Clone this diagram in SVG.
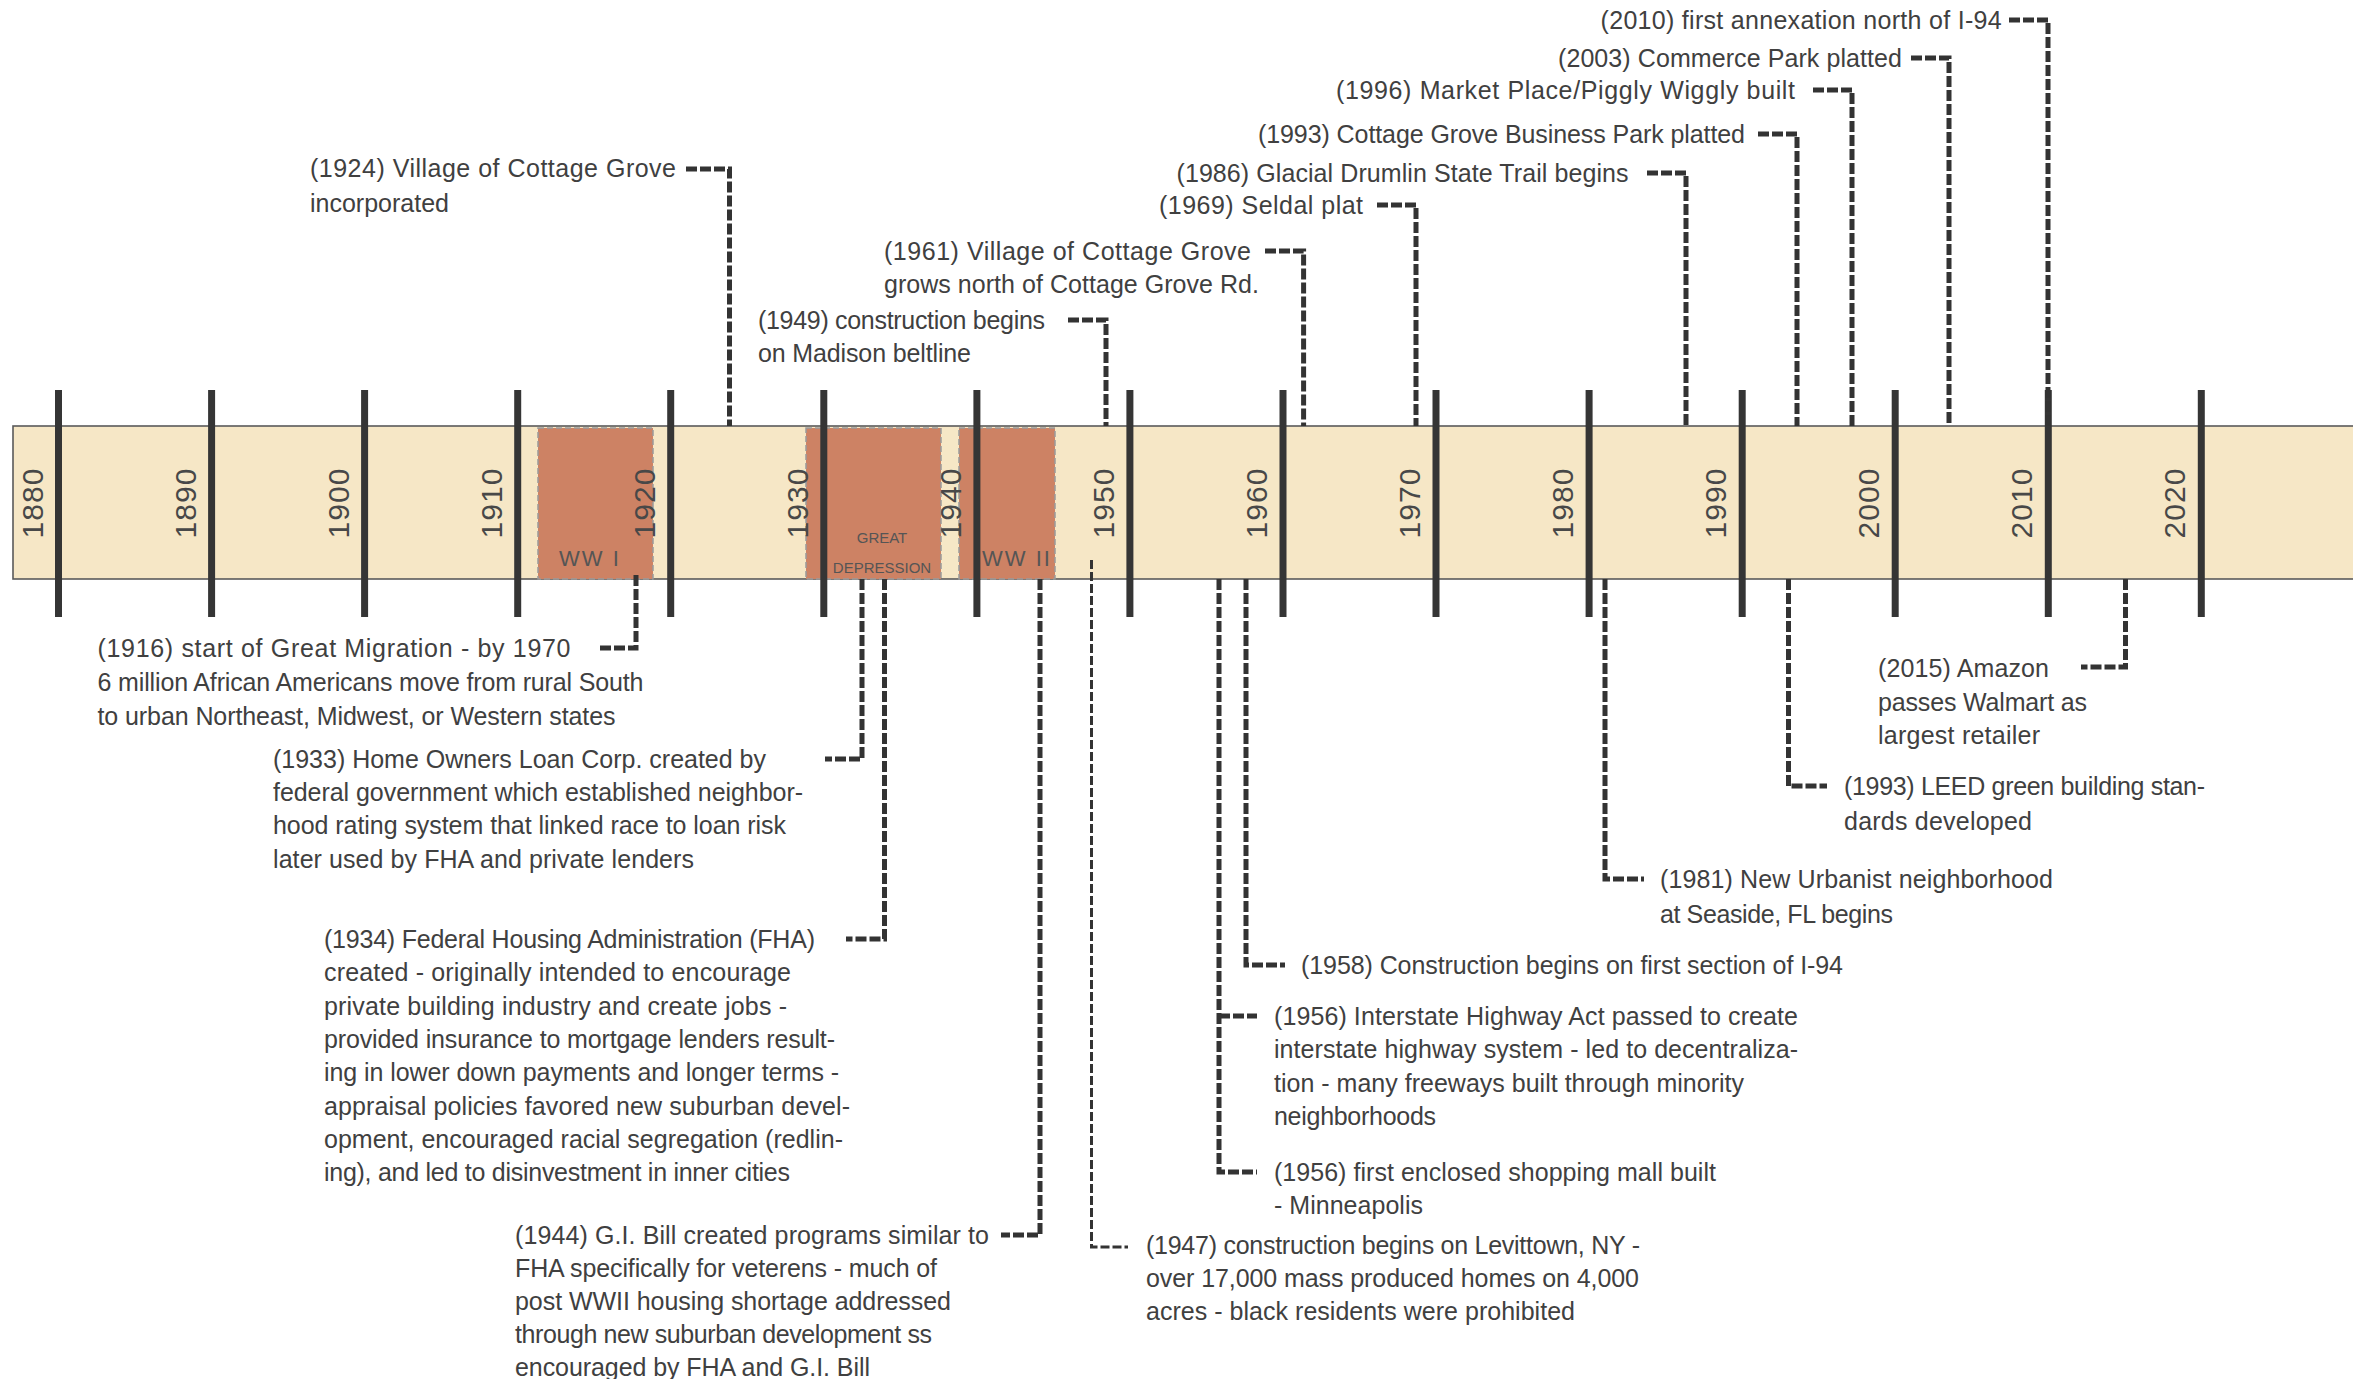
<svg xmlns="http://www.w3.org/2000/svg" width="2353" height="1379" viewBox="0 0 2353 1379">
<style>
.bg{fill:#ffffff}
.band{fill:#f6e7c6;stroke:#5a5a5a;stroke-width:1.6}
.era{fill:#cd8264;stroke:#9a9a9a;stroke-width:1.5;stroke-dasharray:6 3}
.tick{stroke:#353535;stroke-width:7;fill:none}
.yr{font-family:"Liberation Sans",Arial,sans-serif;font-size:30px;fill:#484848;text-anchor:middle;letter-spacing:1px}
.era-t{font-family:"Liberation Sans",Arial,sans-serif;fill:#555;text-anchor:middle}
.lbl{font-family:"Liberation Sans",Arial,sans-serif;font-size:25px;fill:#404040}
.con{fill:none;stroke:#333;stroke-width:5;stroke-dasharray:11 3}
.con-thin{fill:none;stroke:#333;stroke-width:3;stroke-dasharray:9 3}
</style>
<rect class="bg" x="0" y="0" width="2353" height="1379"/>

<g id="timeline">
  <rect class="band" x="13" y="426" width="2345" height="153"/>
  <g id="eras">
    <rect class="era" x="538" y="428" width="115" height="151"/>
    <rect class="era" x="806" y="428" width="135" height="151"/>
    <rect class="era" x="959" y="428" width="96" height="151"/>
  </g>
  <g id="ticks">
    <line class="tick" x1="58.5" y1="390" x2="58.5" y2="617"/>
    <line class="tick" x1="211.6" y1="390" x2="211.6" y2="617"/>
    <line class="tick" x1="364.6" y1="390" x2="364.6" y2="617"/>
    <line class="tick" x1="517.7" y1="390" x2="517.7" y2="617"/>
    <line class="tick" x1="670.7" y1="390" x2="670.7" y2="617"/>
    <line class="tick" x1="823.8" y1="390" x2="823.8" y2="617"/>
    <line class="tick" x1="976.9" y1="390" x2="976.9" y2="617"/>
    <line class="tick" x1="1129.9" y1="390" x2="1129.9" y2="617"/>
    <line class="tick" x1="1283" y1="390" x2="1283" y2="617"/>
    <line class="tick" x1="1436" y1="390" x2="1436" y2="617"/>
    <line class="tick" x1="1589.1" y1="390" x2="1589.1" y2="617"/>
    <line class="tick" x1="1742.2" y1="390" x2="1742.2" y2="617"/>
    <line class="tick" x1="1895.2" y1="390" x2="1895.2" y2="617"/>
    <line class="tick" x1="2048.3" y1="390" x2="2048.3" y2="617"/>
    <line class="tick" x1="2201.3" y1="390" x2="2201.3" y2="617"/>
  </g>
  <g id="years">
    <text class="yr" transform="translate(42.5,503) rotate(-90)">1880</text>
    <text class="yr" transform="translate(195.6,503) rotate(-90)">1890</text>
    <text class="yr" transform="translate(348.6,503) rotate(-90)">1900</text>
    <text class="yr" transform="translate(501.7,503) rotate(-90)">1910</text>
    <text class="yr" transform="translate(654.7,503) rotate(-90)">1920</text>
    <text class="yr" transform="translate(807.8,503) rotate(-90)">1930</text>
    <text class="yr" transform="translate(960.9,503) rotate(-90)">1940</text>
    <text class="yr" transform="translate(1113.9,503) rotate(-90)">1950</text>
    <text class="yr" transform="translate(1267,503) rotate(-90)">1960</text>
    <text class="yr" transform="translate(1420,503) rotate(-90)">1970</text>
    <text class="yr" transform="translate(1573.1,503) rotate(-90)">1980</text>
    <text class="yr" transform="translate(1726.2,503) rotate(-90)">1990</text>
    <text class="yr" transform="translate(1879.2,503) rotate(-90)">2000</text>
    <text class="yr" transform="translate(2032.3,503) rotate(-90)">2010</text>
    <text class="yr" transform="translate(2185.3,503) rotate(-90)">2020</text>
  </g>
  <g id="era-labels">
    <text class="era-t" x="590" y="566" font-size="22" letter-spacing="2">WW I</text>
    <text class="era-t" x="882" y="543" font-size="15">GREAT</text>
    <text class="era-t" x="882" y="573" font-size="15">DEPRESSION</text>
    <text class="era-t" x="1017" y="566" font-size="22" letter-spacing="2">WW II</text>
  </g>
</g>

<g id="connectors">
  <path class="con" d="M686 169 H729.5 V426"/>
  <path class="con" d="M1265 251 H1303.6 V426"/>
  <path class="con" d="M1068 320 H1106 V426"/>
  <path class="con" d="M1377 205 H1416 V426"/>
  <path class="con" d="M1647 173 H1686 V426"/>
  <path class="con" d="M1758 134 H1797 V426"/>
  <path class="con" d="M1813 90 H1852 V426"/>
  <path class="con" d="M1911 58 H1949 V426"/>
  <path class="con" d="M2009 20 H2048 V426"/>
  <path class="con" d="M636 575 V648 H598"/>
  <path class="con" d="M862 579 V759 H825"/>
  <path class="con" d="M884.5 579 V939 H846"/>
  <path class="con" d="M1040 579 V1235 H1001"/>
  <path class="con-thin" d="M1091.5 560 V1247 H1128"/>
  <path class="con" d="M1219 579 V1172 H1257"/>
  <path class="con" d="M1219 1016 H1257"/>
  <path class="con" d="M1246 579 V965 H1285"/>
  <path class="con" d="M1605 579 V879 H1644"/>
  <path class="con" d="M1788.5 579 V786 H1827"/>
  <path class="con" d="M2125.5 579 V667 H2081"/>
</g>

<g id="e1924">
  <text class="lbl" x="310" y="177" textLength="366">(1924) Village of Cottage Grove</text>
  <text class="lbl" x="310" y="211.6" textLength="139">incorporated</text>
</g>
<g id="e1961">
  <text class="lbl" x="884" y="260" textLength="367">(1961) Village of Cottage Grove</text>
  <text class="lbl" x="884" y="293" textLength="375">grows north of Cottage Grove Rd.</text>
</g>
<g id="e1949">
  <text class="lbl" x="758" y="329" textLength="287">(1949) construction begins</text>
  <text class="lbl" x="758" y="362" textLength="213">on Madison beltline</text>
</g>
<g id="e1969"><text class="lbl" x="1159" y="214" textLength="204">(1969) Seldal plat</text></g>
<g id="e1986"><text class="lbl" x="1176.5" y="182" textLength="452">(1986) Glacial Drumlin State Trail begins</text></g>
<g id="e1993a"><text class="lbl" x="1258" y="143" textLength="487">(1993) Cottage Grove Business Park platted</text></g>
<g id="e1996"><text class="lbl" x="1336" y="99" textLength="459">(1996) Market Place/Piggly Wiggly built</text></g>
<g id="e2003"><text class="lbl" x="1558" y="67" textLength="344">(2003) Commerce Park platted</text></g>
<g id="e2010"><text class="lbl" x="1600.6" y="29" textLength="401">(2010) first annexation north of I-94</text></g>

<g id="e1916">
  <text class="lbl" x="97.5" y="657" textLength="473">(1916) start of Great Migration - by 1970</text>
  <text class="lbl" x="97.5" y="691" textLength="546">6 million African Americans move from rural South</text>
  <text class="lbl" x="97.5" y="724.5" textLength="518">to urban Northeast, Midwest, or Western states</text>
</g>
<g id="e1933">
  <text class="lbl" x="273" y="768" textLength="493">(1933) Home Owners Loan Corp. created by</text>
  <text class="lbl" x="273" y="801.2" textLength="530">federal government which established neighbor-</text>
  <text class="lbl" x="273" y="834.4" textLength="513">hood rating system that linked race to loan risk</text>
  <text class="lbl" x="273" y="867.6" textLength="421">later used by FHA and private lenders</text>
</g>
<g id="e1934">
  <text class="lbl" x="324" y="948" textLength="491">(1934) Federal Housing Administration (FHA)</text>
  <text class="lbl" x="324" y="981.3" textLength="467">created - originally intended to encourage</text>
  <text class="lbl" x="324" y="1014.6" textLength="463">private building industry and create jobs -</text>
  <text class="lbl" x="324" y="1047.9" textLength="511">provided insurance to mortgage lenders result-</text>
  <text class="lbl" x="324" y="1081.2" textLength="515">ing in lower down payments and longer terms -</text>
  <text class="lbl" x="324" y="1114.5" textLength="526">appraisal policies favored new suburban devel-</text>
  <text class="lbl" x="324" y="1147.8" textLength="519">opment, encouraged racial segregation (redlin-</text>
  <text class="lbl" x="324" y="1181.1" textLength="466">ing), and led to disinvestment in inner cities</text>
</g>
<g id="e1944">
  <text class="lbl" x="515" y="1244" textLength="474">(1944) G.I. Bill created programs similar to</text>
  <text class="lbl" x="515" y="1277" textLength="422">FHA specifically for veterens - much of</text>
  <text class="lbl" x="515" y="1310" textLength="436">post WWII housing shortage addressed</text>
  <text class="lbl" x="515" y="1343" textLength="417">through new suburban development ss</text>
  <text class="lbl" x="515" y="1376" textLength="355">encouraged by FHA and G.I. Bill</text>
</g>
<g id="e1947">
  <text class="lbl" x="1146" y="1254" textLength="494">(1947) construction begins on Levittown, NY -</text>
  <text class="lbl" x="1146" y="1287" textLength="493">over 17,000 mass produced homes on 4,000</text>
  <text class="lbl" x="1146" y="1320" textLength="429">acres - black residents were prohibited</text>
</g>
<g id="e1956mall">
  <text class="lbl" x="1274" y="1181" textLength="442">(1956) first enclosed shopping mall built</text>
  <text class="lbl" x="1274" y="1214" textLength="149">- Minneapolis</text>
</g>
<g id="e1956act">
  <text class="lbl" x="1274" y="1025" textLength="524">(1956) Interstate Highway Act passed to create</text>
  <text class="lbl" x="1274" y="1058.3" textLength="524">interstate highway system - led to decentraliza-</text>
  <text class="lbl" x="1274" y="1091.6" textLength="470">tion - many freeways built through minority</text>
  <text class="lbl" x="1274" y="1124.9" textLength="162">neighborhoods</text>
</g>
<g id="e1958"><text class="lbl" x="1301" y="974" textLength="542">(1958) Construction begins on first section of I-94</text></g>
<g id="e1981">
  <text class="lbl" x="1660" y="888" textLength="393">(1981) New Urbanist neighborhood</text>
  <text class="lbl" x="1660" y="922.5" textLength="233">at Seaside, FL begins</text>
</g>
<g id="e1993b">
  <text class="lbl" x="1844" y="795" textLength="361">(1993) LEED green building stan-</text>
  <text class="lbl" x="1844" y="829.5" textLength="188">dards developed</text>
</g>
<g id="e2015">
  <text class="lbl" x="1878" y="677" textLength="171">(2015) Amazon</text>
  <text class="lbl" x="1878" y="710.5" textLength="209">passes Walmart as</text>
  <text class="lbl" x="1878" y="744" textLength="162">largest retailer</text>
</g>
</svg>
